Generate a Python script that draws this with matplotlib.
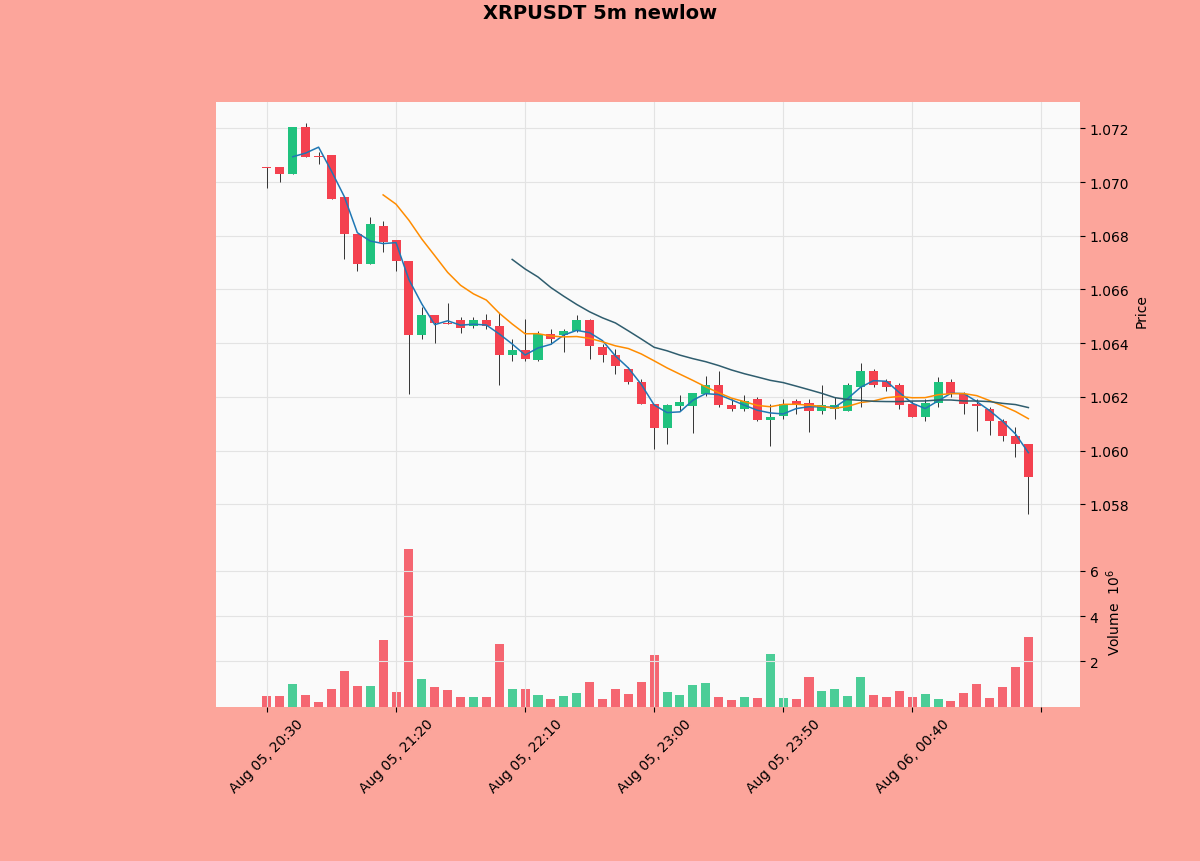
import numpy as np
import pandas as pd
import matplotlib
matplotlib.use("Agg")
import matplotlib.pyplot as plt

times = pd.date_range("2021-08-05 20:30", periods=60, freq="5min")
opens = [1.07055, 1.07055, 1.07029, 1.07204, 1.07099, 1.07103, 1.06943, 1.06805, 1.06694, 1.06835,
         1.06783, 1.06705, 1.06429, 1.06504, 1.06474, 1.06485, 1.06463, 1.06485, 1.06463, 1.06355,
         1.06373, 1.06336, 1.06433, 1.06429, 1.06444, 1.06485, 1.06385, 1.06355, 1.06303, 1.06254,
         1.06172, 1.06083, 1.06165, 1.06165, 1.06210, 1.06243, 1.06169, 1.06154, 1.06191, 1.06113,
         1.06128, 1.06183, 1.06176, 1.06146, 1.06154, 1.06146, 1.06236, 1.06295, 1.06258, 1.06243,
         1.06172, 1.06124, 1.06176, 1.06254, 1.06210, 1.06172, 1.06154, 1.06109, 1.06053, 1.06023]
highs = [1.07055, 1.07055, 1.07204, 1.07222, 1.07111, 1.07103, 1.06943, 1.06805, 1.06869, 1.06854,
         1.06783, 1.06705, 1.06533, 1.06504, 1.06548, 1.06496, 1.06496, 1.06507, 1.06511, 1.06414,
         1.06489, 1.06444, 1.06452, 1.06452, 1.06504, 1.06489, 1.06396, 1.06377, 1.06310, 1.06265,
         1.06172, 1.06172, 1.06206, 1.06213, 1.06277, 1.06295, 1.06191, 1.06206, 1.06198, 1.06172,
         1.06191, 1.06191, 1.06191, 1.06243, 1.06198, 1.06251, 1.06325, 1.06303, 1.06265, 1.06251,
         1.06183, 1.06191, 1.06273, 1.06265, 1.06217, 1.06191, 1.06161, 1.06117, 1.06087, 1.06023]
lows = [1.06980, 1.06999, 1.07029, 1.07092, 1.07066, 1.06936, 1.06712, 1.06668, 1.06694, 1.06738,
        1.06668, 1.06210, 1.06414, 1.06399, 1.06470, 1.06437, 1.06455, 1.06452, 1.06243, 1.06332,
        1.06332, 1.06332, 1.06396, 1.06366, 1.06440, 1.06340, 1.06329, 1.06284, 1.06247, 1.06172,
        1.06005, 1.06023, 1.06146, 1.06064, 1.06202, 1.06161, 1.06146, 1.06146, 1.06109, 1.06016,
        1.06117, 1.06135, 1.06068, 1.06135, 1.06117, 1.06146, 1.06161, 1.06236, 1.06221, 1.06154,
        1.06124, 1.06109, 1.06161, 1.06198, 1.06135, 1.06072, 1.06057, 1.06035, 1.05975, 1.05762]
closes = [1.07051, 1.07029, 1.07204, 1.07092, 1.07095, 1.06936, 1.06805, 1.06694, 1.06843, 1.06776,
          1.06705, 1.06429, 1.06504, 1.06474, 1.06472, 1.06455, 1.06485, 1.06463, 1.06355, 1.06373,
          1.06340, 1.06433, 1.06414, 1.06444, 1.06485, 1.06388, 1.06355, 1.06314, 1.06254, 1.06172,
          1.06083, 1.06169, 1.06180, 1.06213, 1.06243, 1.06169, 1.06154, 1.06183, 1.06113, 1.06124,
          1.06172, 1.06172, 1.06146, 1.06169, 1.06169, 1.06243, 1.06295, 1.06243, 1.06236, 1.06169,
          1.06124, 1.06176, 1.06254, 1.06210, 1.06172, 1.06165, 1.06109, 1.06053, 1.06023, 1.05900]
volumes = [0.48, 0.48, 1.01, 0.53, 0.22, 0.79, 1.59, 0.93, 0.93, 2.95,
           0.66, 6.96, 1.23, 0.88, 0.75, 0.44, 0.44, 0.44, 2.78, 0.79,
           0.79, 0.53, 0.35, 0.48, 0.62, 1.10, 0.35, 0.79, 0.57, 1.10,
           2.29, 0.66, 0.53, 0.97, 1.06, 0.44, 0.31, 0.44, 0.40, 2.33,
           0.40, 0.35, 1.32, 0.70, 0.79, 0.48, 1.32, 0.53, 0.44, 0.70,
           0.44, 0.57, 0.35, 0.26, 0.62, 1.01, 0.40, 0.88, 1.76, 3.08]

up_col = "#1fc27e"
down_col = "#f4414f"
bg = "#fca59b"

df = pd.DataFrame({"o": opens, "h": highs, "l": lows, "c": closes, "v": volumes}, index=times)
x = np.arange(len(df))
cols = [up_col if c >= o else down_col for o, c in zip(df.o, df.c)]

fig = plt.figure(figsize=(12, 8.62), dpi=100, facecolor=bg)
ax = fig.add_axes([0.18, 0.399, 0.72, 0.481])
axv = fig.add_axes([0.18, 0.179, 0.72, 0.22], sharex=ax)
for a in (ax, axv):
    a.set_facecolor("#fafafa")
    a.grid(True, color="#e3e3e3", linewidth=0.8)
    a.yaxis.tick_right()
    a.yaxis.set_label_position("right")
    for s in a.spines.values():
        s.set_visible(False)

ax.vlines(x, df.l, df.h, color="#333333", linewidth=0.7, zorder=2)
body_low = np.minimum(df.o, df.c)
body_h = np.maximum(np.abs(df.c - df.o), 0.00002)
ax.bar(x, body_h, bottom=body_low, width=0.7, color=cols, zorder=3)
ax.plot(x, df.c.rolling(3).mean(), color="#1f77b4", lw=1.1, zorder=4)
ax.plot(x, df.c.rolling(10).mean(), color="#ff8c00", lw=1.1, zorder=4)
ax.plot(x, df.c.rolling(20).mean(), color="#2f5d6e", lw=1.1, zorder=4)
ax.set_ylim(1.05752, 1.07297)
ax.set_yticks(np.arange(1.058, 1.0721, 0.002))
ax.set_yticklabels([f"{v:.3f}" for v in np.arange(1.058, 1.0721, 0.002)])
ax.set_ylabel("Price")
plt.setp(ax.get_xticklabels(), visible=False)
ax.tick_params(axis="x", length=0)

axv.bar(x, df.v, width=0.7, color=cols, alpha=0.8)
axv.set_ylim(0, 8.38)
axv.set_yticks([2, 4, 6])
axv.set_ylabel("Volume  $10^6$")
axv.set_xlim(-3.95, 63.0)
ticks = list(range(0, 60, 10))
axv.set_xticks(ticks + [60])
axv.set_xticklabels([times[i].strftime("%b %d, %H:%M") for i in ticks] + [""],
                    rotation=45, ha="center")

fig.suptitle("XRPUSDT 5m newlow", fontweight="bold", fontsize=14, y=0.995)
fig.savefig("out.png", facecolor=bg)
